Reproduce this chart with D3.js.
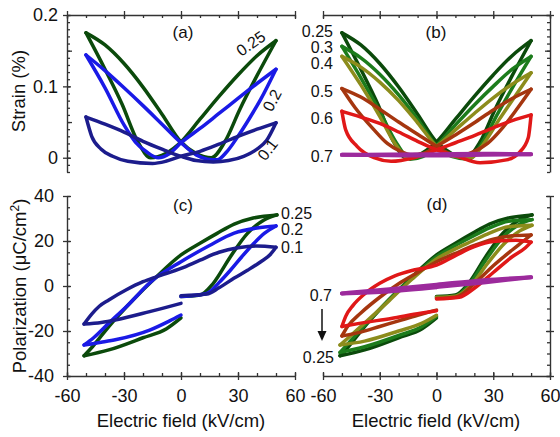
<!DOCTYPE html>
<html><head><meta charset="utf-8">
<script src="https://cdn.jsdelivr.net/npm/d3@7"></script>
<style>
body{margin:0;background:#fff}
svg{display:block}
text{font-family:"Liberation Sans",Arial,sans-serif;fill:#111}
</style>
</head><body>
<svg id="c" width="560" height="437"></svg>
<script>
// ---------- tick values ----------
const E_TICKS = [-60, -30, 0, 30, 60];
const E_MINOR = [-60,-50,-40,-30,-20,-10,0,10,20,30,40,50,60];
const S_TICKS = [0, 0.1, 0.2];
const S_MID = [0.05, 0.15];
const S_MINOR = [-0.02,-0.01,0,0.01,0.02,0.03,0.04,0.05,0.06,0.07,0.08,0.09,0.1,0.11,0.12,0.13,0.14,0.15,0.16,0.17,0.18,0.19,0.2];
const P_TICKS = [-40, -20, 0, 20, 40];
const P_MINOR = [-40,-35,-30,-25,-20,-15,-10,-5,0,5,10,15,20,25,30,35,40];

// ---------- labels ----------
const LABELS_A = ["0.25", "0.2", "0.1"];
const LABELS_B = ["0.25", "0.3", "0.4", "0.5", "0.6", "0.7"];
const LABELS_C = ["0.25", "0.2", "0.1"];
const LABELS_D = ["0.7", "0.25"];

// ---------- strain loops (E kV/cm, strain %) ----------
const S025 = [[-50,0.175],[-40,0.158],[-30,0.132],[-20,0.099],[-10,0.061],[0,0.022],[8,0.006],[16,0.0],[23,0.022],[31,0.068],[40,0.115],[50,0.164],
  [40,0.143],[30,0.116],[20,0.086],[10,0.054],[0,0.022],[-8,0.006],[-16,0.0],[-23,0.024],[-31,0.075],[-40,0.124],[-50,0.175]];
const S020 = [[-50,0.144],[-40,0.122],[-30,0.098],[-20,0.073],[-10,0.047],[0,0.021],[8,0.004],[14,-0.002],[19,-0.003],[24,0.008],[30,0.03],[36,0.055],[42,0.082],[50,0.124],
  [40,0.104],[30,0.083],[20,0.062],[10,0.041],[0,0.021],[-6,0.006],[-12,0.0],[-18,0.008],[-24,0.022],[-30,0.046],[-40,0.098],[-50,0.144]];
const S010 = [[-50,0.057],[-40,0.047],[-30,0.036],[-20,0.023],[-10,0.012],[0,0.002],[8,-0.004],[17,-0.006],[25,-0.004],[33,0.002],[40,0.012],[45,0.024],[50,0.049],
  [40,0.040],[30,0.030],[20,0.019],[10,0.009],[0,0.002],[-8,-0.005],[-15,-0.008],[-28,-0.005],[-36,0.002],[-42,0.012],[-47,0.03],[-50,0.057]];
const S030 = [[-50,0.156],[-40,0.14],[-30,0.117],[-20,0.088],[-10,0.054],[0,0.017],[8,0.002],[17,-0.002],[24,0.02],[32,0.06],[41,0.102],[50,0.142],
  [40,0.124],[30,0.1],[20,0.074],[10,0.046],[0,0.017],[-7,0.002],[-14,-0.002],[-21,0.02],[-30,0.065],[-40,0.112],[-50,0.156]];
const S040 = [[-50,0.142],[-40,0.127],[-30,0.106],[-20,0.08],[-10,0.049],[0,0.016],[9,0.002],[18,0.0],[25,0.02],[33,0.053],[42,0.088],[50,0.119],
  [40,0.103],[30,0.084],[20,0.062],[10,0.039],[0,0.016],[-8,0.003],[-15,0.0],[-22,0.02],[-30,0.058],[-40,0.102],[-50,0.142]];
const S050 = [[-50,0.097],[-40,0.085],[-30,0.068],[-20,0.05],[-10,0.033],[0,0.016],[7,0.006],[14,0.004],[20,0.009],[27,0.02],[34,0.039],[43,0.07],[50,0.096],
  [40,0.083],[30,0.067],[20,0.049],[10,0.032],[0,0.016],[-7,0.006],[-13,0.004],[-19,0.009],[-26,0.02],[-33,0.039],[-43,0.07],[-50,0.097]];
const S060 = [[-50,0.065],[-40,0.057],[-30,0.048],[-20,0.036],[-10,0.023],[0,0.011],[11,0.002],[23,-0.007],[37,-0.003],[44,0.008],[48.5,0.028],[50,0.06],
  [40,0.052],[30,0.042],[20,0.031],[10,0.021],[0,0.011],[-12,0.0],[-24,-0.005],[-33,0.0],[-42,0.016],[-48,0.039],[-50,0.065]];
const S070 = [[-50,0.004],[-25,0.0035],[0,0.003],[25,0.004],[50,0.005],[25,0.0055],[0,0.005],[-25,0.0045],[-50,0.004]];

// ---------- polarization loops (E kV/cm, P uC/cm2) ----------
const P025 = [[0,-4.7],[10,-4],[17,1.2],[26,13],[35,23.4],[43.7,29.3],[50.5,31.6],
  [38,30.2],[28,27.5],[19,23.4],[10,19],[0,13.8],[-13,4],[-25,-6],[-38,-18],[-46.6,-27],[-51,-31],
  [-38,-28.4],[-20,-23],[-7.6,-19],[0,-14.2]];
const P020 = [[0,-4.7],[13.6,-3.3],[20,1.5],[26,7],[32,13],[38.4,19],[44,23.5],[50,26.7],
  [40,25.8],[28,23.5],[15,18],[0,10.8],[-14.7,2.7],[-28.8,-9.2],[-38,-16.5],[-46,-23],[-51,-26.2],
  [-42,-25],[-34,-23.8],[-16.5,-19.6],[-6,-15.5],[0,-12.9]];
const P010 = [[0,-4.3],[13.6,-3.6],[20,-0.8],[27.8,3.4],[35,7],[42,10.8],[47,14],[50,17.2],
  [40,17.8],[30,17],[20,15],[10,11.5],[0,7.8],[-13,4.1],[-20,1.9],[-29,-1.8],[-38,-6.2],[-43,-9],[-47,-12.5],[-51,-16.9],
  [-42,-16.2],[-34,-15],[-16.5,-11.4],[0,-7.7]];
const P030 = [[0,-5],[10,-4.5],[17,0.5],[26,11.5],[35,21.5],[44,27.5],[50.5,29.5],
  [38,28.8],[28,25.8],[19,22],[10,18],[0,13],[-13,3.5],[-25,-6],[-38,-17.5],[-46.6,-25.5],[-51,-29.5],
  [-38,-27],[-20,-22],[-7.6,-18],[0,-13.5]];
const P040 = [[0,-5],[10,-4.5],[18,0],[27,10],[36,19],[44,24.5],[50.5,27],
  [38,26.3],[28,23.5],[19,20],[10,16.5],[0,12],[-13,3],[-25,-6.5],[-38,-16.5],[-46.6,-23],[-51,-26.2],
  [-38,-24.5],[-20,-20],[-7.6,-16.5],[0,-13]];
const P050 = [[0,-5.5],[10,-5],[20,1],[30,9],[40,16],[46,20],[50,22.7],
  [40,22.3],[30,20.8],[20,18],[10,14.5],[0,10.8],[-10,6],[-20,1],[-30,-5],[-40,-12],[-47,-18],[-50,-22.2],
  [-40,-20.5],[-30,-18],[-20,-15.5],[-10,-13],[0,-10.7]];
const P060 = [[0,-5.8],[12,-5],[20,-1],[30,6],[40,13],[47,17],[50,19.5],
  [42,20.3],[30,19.8],[20,17.5],[10,13.5],[0,9.3],[-12,7.1],[-22,4.5],[-30,1.2],[-38,-3.5],[-44,-8.5],[-48,-13.5],[-50,-18],
  [-40,-16.5],[-24,-14.4],[-8.5,-12.1],[0,-11]];
const P070 = [[0,-0.5],[25,1.6],[50,3.9],[25,2.6],[0,0.6],[-25,-1.4],[-50,-3.3],[-25,-2.4],[0,-0.6]];

const COL = {
  "0.25": "#0b4a0b", "0.2": "#1a1ae6", "0.1": "#1c1c8c",
  "0.3": "#1c7c1c", "0.4": "#8c8c1c", "0.5": "#a5360f", "0.6": "#e01818", "0.7": "#9c2a9c"
};

const svg = d3.select("#c");
const xL = d3.scaleLinear([-60, 60], [67, 295]);
const xR = d3.scaleLinear([-60, 60], [323, 550]);
const yS = d3.scaleLinear([-0.02, 0.2], [172, 15]);
const yP = d3.scaleLinear([-40, 40], [376, 196]);
const fmt = d => String(d);

function branches(pts) {
  const segs = []; let cur = [pts[0]];
  for (let i = 1; i < pts.length; i++) {
    cur.push(pts[i]);
    if (i < pts.length - 1 && (pts[i][0] - pts[i-1][0]) * (pts[i+1][0] - pts[i][0]) < 0) {
      segs.push(cur); cur = [pts[i]];
    }
  }
  segs.push(cur);
  return segs.map(s => s[0][0] > s[s.length-1][0] ? s.slice().reverse() : s);
}
function drawLoop(g, x, y, pts, color, w) {
  const line = d3.line().x(d => x(d[0])).y(d => y(d[1])).curve(d3.curveMonotoneX);
  branches(pts).forEach(seg => {
    g.append("path").attr("d", line(seg)).attr("fill", "none").attr("stroke", color)
      .attr("stroke-width", w || 3.5).attr("stroke-linejoin", "round").attr("stroke-linecap", "round");
  });
}

const AX = "#333";
function styleAxis(sel) {
  sel.selectAll(".domain").attr("stroke", AX).attr("stroke-width", 1.4);
  sel.selectAll(".tick line").attr("stroke", AX).attr("stroke-width", 1.3);
  sel.selectAll(".tick text").attr("font-size", 18).attr("fill", "#111")
     .attr("font-family", '"Liberation Sans",Arial,sans-serif');
}
function axisSet(make, scale, pos, minor, mid, major, opts) {
  const a1 = svg.append("g").attr("transform", pos)
    .call(make(scale).tickValues(minor).tickSize(-3).tickSizeOuter(0).tickFormat(""));
  styleAxis(a1);
  if (mid) {
    const a2 = svg.append("g").attr("transform", pos)
      .call(make(scale).tickValues(mid).tickSize(-5).tickSizeOuter(0).tickFormat(""));
    styleAxis(a2); a2.select(".domain").remove();
  }
  const a3 = svg.append("g").attr("transform", pos)
    .call(make(scale).tickValues(major).tickSize(-4).tickSizeOuter(0).tickFormat(""));
  styleAxis(a3); a3.select(".domain").remove();
  const a4 = svg.append("g").attr("transform", pos)
    .call(make(scale).tickValues(major).tickSize(4).tickSizeOuter(0)
      .tickPadding(opts.pad != null ? opts.pad : 4)
      .tickFormat(opts.labels ? fmt : ""));
  styleAxis(a4); a4.select(".domain").remove();
  return a4;
}

// Panel (a)
axisSet(d3.axisLeft, yS, "translate(67,0)", S_MINOR, S_MID, S_TICKS, {labels: true, pad: 5});
axisSet(d3.axisTop, xL, "translate(0,15)", E_MINOR, null, E_TICKS, {});
// Panel (b)
axisSet(d3.axisRight, yS, "translate(550,0)", S_MINOR, S_MID, S_TICKS, {});
axisSet(d3.axisTop, xR, "translate(0,15)", E_MINOR, null, E_TICKS, {});
// Panel (c)
axisSet(d3.axisLeft, yP, "translate(67,0)", P_MINOR, null, P_TICKS, {labels: true, pad: 9});
axisSet(d3.axisBottom, xL, "translate(0,376)", E_MINOR, null, E_TICKS, {labels: true, pad: 9});
// Panel (d)
axisSet(d3.axisRight, yP, "translate(550,0)", P_MINOR, null, P_TICKS, {});
axisSet(d3.axisBottom, xR, "translate(0,376)", E_MINOR, null, E_TICKS, {labels: true, pad: 9});

// Loops
const gA = svg.append("g"), gB = svg.append("g"), gC = svg.append("g"), gD = svg.append("g");
drawLoop(gA, xL, yS, S025, COL["0.25"]);
drawLoop(gA, xL, yS, S020, COL["0.2"]);
drawLoop(gA, xL, yS, S010, COL["0.1"]);

drawLoop(gB, xR, yS, S025, COL["0.25"]);
drawLoop(gB, xR, yS, S030, COL["0.3"]);
drawLoop(gB, xR, yS, S040, COL["0.4"]);
drawLoop(gB, xR, yS, S050, COL["0.5"]);
drawLoop(gB, xR, yS, S060, COL["0.6"]);
drawLoop(gB, xR, yS, S070, COL["0.7"], 4);

drawLoop(gC, xL, yP, P025, COL["0.25"]);
drawLoop(gC, xL, yP, P020, COL["0.2"]);
drawLoop(gC, xL, yP, P010, COL["0.1"]);

drawLoop(gD, xR, yP, P025, COL["0.25"]);
drawLoop(gD, xR, yP, P030, COL["0.3"]);
drawLoop(gD, xR, yP, P040, COL["0.4"]);
drawLoop(gD, xR, yP, P050, COL["0.5"]);
drawLoop(gD, xR, yP, P060, COL["0.6"]);
drawLoop(gD, xR, yP, P070, COL["0.7"], 4);

// Panel letters
[["(a)", 183, 38], ["(b)", 436, 38], ["(c)", 183, 211], ["(d)", 437, 210]].forEach(t =>
  svg.append("text").attr("x", t[1]).attr("y", t[2]).attr("text-anchor", "middle").attr("font-size", 17).text(t[0]));

// Axis titles
svg.append("text").attr("transform", "translate(25,91) rotate(-90)").attr("text-anchor", "middle")
  .attr("font-size", 18.5).text("Strain (%)");
const pt = svg.append("text").attr("transform", "translate(26,286) rotate(-90)").attr("text-anchor", "middle")
  .attr("font-size", 18.5);
pt.append("tspan").text("Polarization (\u03BCC/cm");
pt.append("tspan").attr("dy", -7).attr("font-size", 12).text("2");
pt.append("tspan").attr("dy", 7).text(")");
[181, 436].forEach(cx => svg.append("text").attr("x", cx).attr("y", 427).attr("text-anchor", "middle")
  .attr("font-size", 18.5).text("Electric field (kV/cm)"));

// Curve labels (a)
[[LABELS_A[0], 254, 48, -35], [LABELS_A[1], 277, 103, -62], [LABELS_A[2], 272, 153, -52]].forEach(t =>
  svg.append("text").attr("transform", `translate(${t[1]},${t[2]}) rotate(${t[3]})`).attr("text-anchor", "middle")
    .attr("font-size", 16).text(t[0]));
// (b)
[31, 47, 63, 91, 118, 156].forEach((yy, i) =>
  svg.append("text").attr("x", 333).attr("y", yy + 6).attr("text-anchor", "end").attr("font-size", 16).text(LABELS_B[i]));
// (c)
[213, 229, 247].forEach((yy, i) =>
  svg.append("text").attr("x", 281).attr("y", yy + 6).attr("font-size", 16).text(LABELS_C[i]));
// (d)
svg.append("text").attr("x", 332).attr("y", 301).attr("text-anchor", "end").attr("font-size", 16).text(LABELS_D[0]);
svg.append("text").attr("x", 334).attr("y", 363).attr("text-anchor", "end").attr("font-size", 16).text(LABELS_D[1]);
svg.append("line").attr("x1", 322).attr("y1", 309).attr("x2", 322).attr("y2", 332).attr("stroke", "#111").attr("stroke-width", 1.5);
svg.append("path").attr("d", "M317.5,331 L326.5,331 L322,341 Z").attr("fill", "#111");
</script>
</body></html>
